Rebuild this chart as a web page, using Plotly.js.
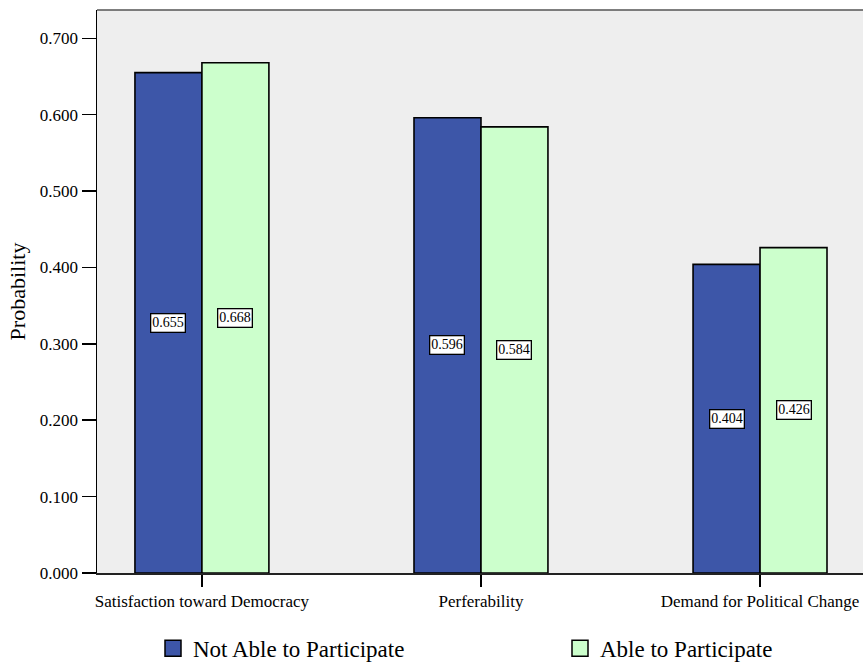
<!DOCTYPE html>
<html><head><meta charset="utf-8">
<script src="https://cdn.plot.ly/plotly-3.0.1.min.js"></script>
<style>html,body{margin:0;padding:0;background:#fff}#chart{width:863px;height:663px}</style>
</head><body><div id="chart"></div>
<script>
const categories = ["Satisfaction toward Democracy", "Perferability", "Demand for Political Change"];
const notAble = [0.655, 0.596, 0.404];
const able = [0.668, 0.584, 0.426];
const seriesNames = ["Not Able to Participate", "Able to Participate"];
const colors = ["#3d56a8", "#ccffcc"];

const FONT = "Liberation Serif";
const traces = [notAble, able].map((vals, i) => ({
  type: "bar", x: categories, y: vals, name: seriesNames[i],
  marker: {color: colors[i], line: {color: "#000", width: 1.6}},
  hoverinfo: "none", showlegend: false
}));
// legend proxies (square swatches)
seriesNames.forEach((n, i) => traces.push({
  type: "scatter", mode: "markers", x: [null], y: [null], name: n,
  legend: i === 0 ? "legend" : "legend2",
  marker: {symbol: "square", size: 16, color: colors[i], line: {color: "#000", width: 1.5}},
  showlegend: true, hoverinfo: "none"
}));

const annotations = [];
[notAble, able].forEach((vals, i) => {
  vals.forEach((v, j) => {
    annotations.push({
      x: j, y: v / 2, xref: "x", yref: "y", text: v.toFixed(3),
      showarrow: false, xshift: (i === 0 ? -33.5 : 33.5),
      font: {family: FONT, size: 14, color: "#000"},
      bgcolor: "#fff", bordercolor: "#000", borderwidth: 1.3, borderpad: 1
    });
  });
});

const legendBase = {
  orientation: "h", xref: "container", yref: "container",
  xanchor: "left", yanchor: "middle", y: 0.022,
  font: {family: FONT, size: 23}, itemclick: false, bgcolor: "rgba(0,0,0,0)", itemsizing: "trace"
};

const layout = {
  width: 863, height: 663,
  margin: {l: 97, r: 0, t: 10, b: 90, autoexpand: false},
  paper_bgcolor: "#fff", plot_bgcolor: "#eeeeee",
  font: {family: FONT, color: "#000"},
  barmode: "group", bargap: 0.52, bargroupgap: 0,
  xaxis: {
    type: "category", range: [-0.376, 2.369],
    showline: true, linecolor: "#222", linewidth: 1.5,
    ticks: "outside", ticklen: 12, tickwidth: 1.5, tickcolor: "#000",
    tickfont: {family: FONT, size: 17}, showgrid: false, fixedrange: true
  },
  yaxis: {
    range: [0, 0.737], dtick: 0.1, tickformat: ".3f",
    showline: true, linecolor: "#000", linewidth: 1.5,
    ticks: "outside", ticklen: 14, tickwidth: 1.5, tickcolor: "#000",
    tickfont: {family: FONT, size: 17}, showgrid: false, zeroline: false,
    title: {text: "Probability", font: {family: FONT, size: 22}, standoff: 8}
  },
  shapes: [{type: "line", xref: "paper", yref: "paper", x0: 0, x1: 1, y0: 1, y1: 1,
    line: {color: "#555", width: 1.5}}],
  annotations: annotations,
  showlegend: true,
  legend: Object.assign({}, legendBase, {x: 153 / 863}),
  legend2: Object.assign({}, legendBase, {x: 560 / 863})
};
Plotly.newPlot("chart", traces, layout, {staticPlot: true});
</script></body></html>
